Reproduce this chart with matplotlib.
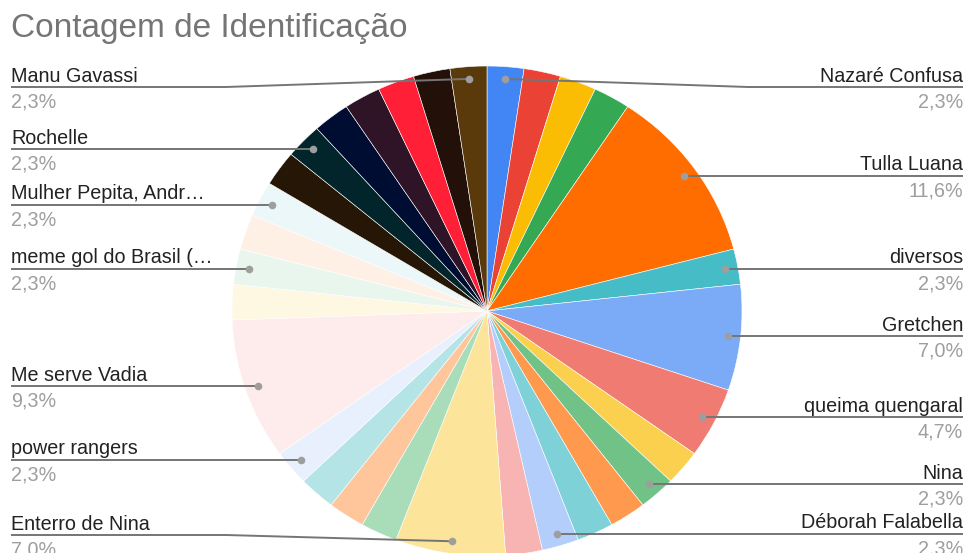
import numpy as np
import matplotlib
matplotlib.use("Agg")
import matplotlib.pyplot as plt

plt.rcParams['font.family'] = ['Liberation Sans', 'DejaVu Sans']

# Slices clockwise from 12 o'clock; empty label = slice without a callout
labels = [
    "Nazaré Confusa", "", "", "", "Tulla Luana", "diversos", "Gretchen",
    "queima quengaral", "", "Nina", "", "", "Déborah Falabella", "",
    "Enterro de Nina", "", "", "", "power rangers", "Me serve Vadia", "",
    "meme gol do Brasil (…", "", "Mulher Pepita, Andr…", "", "Rochelle",
    "", "", "", "", "Manu Gavassi",
]
counts = [
    1, 1, 1, 1, 5, 1, 3,
    2, 1, 1, 1, 1, 1, 1,
    3, 1, 1, 1, 1, 4, 1,
    1, 1, 1, 1, 1,
    1, 1, 1, 1, 1,
]
colors = [
    "#4285f4", "#ea4335", "#fbbc04", "#34a853", "#ff6d01", "#46bdc6", "#7baaf7",
    "#f07b72", "#fcd04f", "#71c287", "#ff994d", "#7ed1d7", "#b3cefb", "#f7b4b2",
    "#fde49b", "#a9dcb9", "#ffc69c", "#b5e4e7", "#e8f0fe", "#fdeceb", "#fef7e1",
    "#e9f6ee", "#fff0e6", "#ebf7f8", "#261605", "#01252a", "#000d33", "#2e1426",
    "#ff1f37", "#221009", "#5a3a0b",
]

W, H = 968, 553
fig = plt.figure(figsize=(W / 100, H / 100), dpi=100)

# Overlay axes in pixel coordinates for callouts and text
ov = fig.add_axes([0, 0, 1, 1])
ov.set_xlim(0, W)
ov.set_ylim(H, 0)
ov.axis("off")

# Pie axes: slightly elliptical footprint, extending past the bottom edge
cx, cy, rx, ry = 487, 311, 255, 245
pax = fig.add_axes([(cx - rx) / W, (H - (cy + ry)) / H, 2 * rx / W, 2 * ry / H])
pax.pie(counts, colors=colors, startangle=90, counterclock=False, radius=1,
        wedgeprops=dict(edgecolor="white", linewidth=0.4))
pax.set_aspect("auto")
pax.set_xlim(-1, 1)
pax.set_ylim(-1, 1)
pax.axis("off")
pax.set_zorder(1)
ov.set_zorder(2)
ov.patch.set_alpha(0)

total = sum(counts)
cum = np.cumsum([0] + counts)

fig.canvas.draw()
to_ov = pax.transData + ov.transData.inverted()

line_col = "#757575"
dot_col = "#9e9e9e"
name_col = "#222222"
pct_col = "#9e9e9e"
fs = 14.2

y_min, y_max = 87, 535
left_x, right_x = 11, 963
left_bend, right_bend = 226, 748

for i, lab in enumerate(labels):
    if not lab:
        continue
    mid = (cum[i] + counts[i] / 2) / total * 2 * np.pi
    px, py = to_ov.transform((0.95 * np.sin(mid), 0.95 * np.cos(mid)))
    ly = min(max(py, y_min), y_max)
    pct = f"{100 * counts[i] / total:.1f}%".replace(".", ",")
    if px > cx:
        bend, tx, ha = right_bend, right_x, "right"
    else:
        bend, tx, ha = left_bend, left_x, "left"
    if abs(ly - py) > 0.5:
        xs, ys = [px, bend, tx], [py, ly, ly]
    else:
        xs, ys = [px, tx], [py, ly]
    ov.plot(xs, ys, color=line_col, lw=1.4, solid_capstyle="butt", zorder=3)
    ov.scatter([px], [py], s=30, color=dot_col, zorder=4, linewidths=0)
    ov.text(tx, ly - 5.5, lab, ha=ha, va="baseline", fontsize=fs, color=name_col)
    ov.text(tx, ly + 5.5, pct, ha=ha, va="top", fontsize=fs, color=pct_col)

ov.text(11, 37, "Contagem de Identificação", ha="left", va="baseline",
        fontsize=24, color="#757575")

fig.savefig("out.png", dpi=100)
